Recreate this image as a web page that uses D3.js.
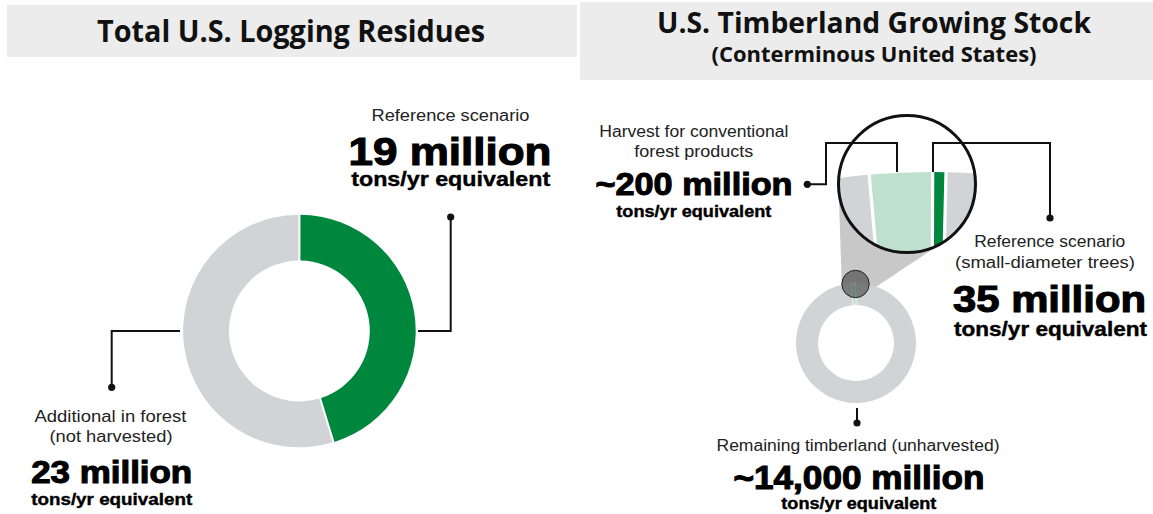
<!DOCTYPE html>
<html lang="en">
<head>
<meta charset="utf-8">
<script src="https://cdn.jsdelivr.net/npm/d3@7"></script>
<style>
  body { margin: 0; background: #fff; }
  text { font-family: "Liberation Sans", Arial, sans-serif; }
</style>
</head>
<body>
<svg id="chart" width="1153" height="514"></svg>
<script>
// ---- data ----
var residueNames  = ["Reference scenario", "Additional in forest"];
var residueValues = [19, 23];                       // million tons/yr
var residueText   = ["19 million", "23 million"];
var residueColors = ["#00873e", "#d1d3d6"];

var stockNames  = ["Harvest for conventional forest products",
                   "Reference scenario (small-diameter trees)",
                   "Remaining timberland (unharvested)"];
var stockValues = [200, 35, 14000];                 // million tons/yr
var stockText   = ["~200 million", "35 million", "~14,000 million"];
var stockColors = ["#bfe0cc", "#00873e", "#d1d3d6"];

var unitText = "tons/yr equivalent";
var titles = ["Total U.S. Logging Residues", "U.S. Timberland Growing Stock", "(Conterminous United States)"];

var svg = d3.select("#chart");
var ink = "#111";

// text helper: centred text squeezed/stretched to the measured width
function label(x, y, txt, size, weight, width, family) {
  var t = svg.append("text")
    .attr("x", x - width / 2)
    .attr("y", y)
    .attr("font-size", size)
    .attr("font-weight", weight == "normal" ? "normal" : "bold")
    .attr("fill", weight == "normal" ? "#222" : "#000")
    .attr("textLength", width)
    .attr("lengthAdjust", "spacingAndGlyphs")
    .text(txt);
  // heavier look for the big numbers
  if (weight == 900) t.attr("stroke", "#000").attr("stroke-width", 1.1);
  if (weight == "bold") t.attr("stroke", "#000").attr("stroke-width", 0.4);
  if (family) t.style("font-family", family);
  return t;
}

var line = d3.line();
function leader(pts) {
  svg.append("path").attr("d", line(pts))
    .attr("fill", "none").attr("stroke", ink).attr("stroke-width", 2);
  var end = pts[0];
  svg.append("circle").attr("cx", end[0]).attr("cy", end[1]).attr("r", 3.6).attr("fill", ink);
}

// ---- title bands ----
svg.append("rect").attr("x", 7).attr("y", 5).attr("width", 570).attr("height", 52).attr("fill", "#ececec");
svg.append("rect").attr("x", 580).attr("y", 2).attr("width", 573).attr("height", 78).attr("fill", "#ececec");
var titleFont = "'Open Sans', 'DejaVu Sans', sans-serif";
label(291, 42, titles[0], 30, "title", 388, titleFont).attr("fill", "#111");
label(874, 33, titles[1], 29, "title", 434, titleFont).attr("fill", "#111");
label(874, 62, titles[2], 22, "title", 325, titleFont).attr("fill", "#111");

// ---- left donut: logging residues ----
var resPie = d3.pie().sort(null).padAngle(0.015);
var resArc = d3.arc().innerRadius(70.4).outerRadius(116.3);
svg.append("g").attr("transform", "translate(299.4,331)")
  .selectAll("path").data(resPie(residueValues)).join("path")
  .attr("d", resArc)
  .attr("fill", function(d, i) { return residueColors[i]; });

leader([[450.7, 217], [450.7, 331], [418, 331]]);
leader([[111.7, 387.3], [111.7, 331], [180, 331]]);

label(450.5, 120.7, residueNames[0], 16, "normal", 158);
label(450, 165, residueText[0], 38, 900, 203);
label(450.7, 186, unitText, 20.5, "bold", 199);

label(110.5, 421.7, residueNames[1], 16, "normal", 152);
label(111, 442.3, "(not harvested)", 16, "normal", 123);
label(111.7, 483.3, residueText[1], 31, 900, 161);
label(111.7, 504.5, unitText, 17, "bold", 161);

// ---- right donut: growing stock ----
var total = d3.sum(stockValues);
var a0 = -2 * Math.PI * stockValues[0] / total;
var stockPie = d3.pie().sort(null).startAngle(a0).endAngle(a0 + 2 * Math.PI).padAngle(0.004);
var slices = stockPie(stockValues);

var small = { x: 856, y: 343, r0: 38, r1: 60 };
var lensS = { x: 855.5, y: 284, r: 13.7 };
var lensB = { x: 907, y: 184, r: 68.5 };
var mag = 690 / small.r1;

// cone between the two lenses (outer tangents)
var dx = lensB.x - lensS.x, dy = lensB.y - lensS.y, dist = Math.hypot(dx, dy);
var th = Math.atan2(dy, dx), ph = Math.acos((lensS.r - lensB.r) / dist);
function tp(c, s) { return [c.x + c.r * Math.cos(th + s * ph), c.y + c.r * Math.sin(th + s * ph)]; }
svg.append("path")
  .attr("d", line([tp(lensS, 1), tp(lensB, 1), tp(lensB, -1), tp(lensS, -1)]) + "Z")
  .attr("fill", "#c8c8c8");

var smallArc = d3.arc().innerRadius(small.r0).outerRadius(small.r1);
svg.append("g").attr("transform", "translate(" + small.x + "," + small.y + ")")
  .selectAll("path").data(slices).join("path")
  .attr("d", smallArc)
  .attr("fill", function(d, i) { return stockColors[i]; })
  .attr("stroke", function(d, i) { return i < 2 ? "#fff" : "none"; })
  .attr("stroke-width", 0.6);

svg.append("circle").attr("cx", lensS.x).attr("cy", lensS.y).attr("r", lensS.r)
  .attr("fill", "#000").attr("fill-opacity", 0.42)
  .attr("stroke", "#222").attr("stroke-width", 1);

// magnified view
svg.append("clipPath").attr("id", "lens")
  .append("circle").attr("cx", lensB.x).attr("cy", lensB.y).attr("r", lensB.r);
svg.append("circle").attr("cx", lensB.x).attr("cy", lensB.y).attr("r", lensB.r).attr("fill", "#fff");
var bigArc = d3.arc().innerRadius(small.r0 * mag).outerRadius(small.r1 * mag);
svg.append("g").attr("clip-path", "url(#lens)")
  .append("g").attr("transform", "translate(930," + (172 + small.r1 * mag) + ")")
  .selectAll("path").data(slices).join("path")
  .attr("d", bigArc)
  .attr("fill", function(d, i) { return stockColors[i]; });
svg.append("circle").attr("cx", lensB.x).attr("cy", lensB.y).attr("r", lensB.r)
  .attr("fill", "none").attr("stroke", ink).attr("stroke-width", 3);

leader([[807.3, 184.3], [826, 184.3], [826, 143], [897, 143], [897, 172]]);
leader([[1050, 218], [1050, 143], [933, 143], [933, 172]]);
leader([[857, 423], [857, 408]]);

label(693.8, 136.7, "Harvest for conventional", 16, "normal", 189);
label(693.8, 157.3, "forest products", 16, "normal", 119);
label(694, 195, stockText[0], 32, 900, 197);
label(693.8, 217, unitText, 16.5, "bold", 155);

label(1049.7, 246.7, "Reference scenario", 16, "normal", 151);
label(1045, 268.3, "(small-diameter trees)", 16, "normal", 180);
label(1049.5, 311.5, stockText[1], 36, 900, 193);
label(1050.5, 335.5, unitText, 20, "bold", 193);

label(858, 450.7, stockNames[2], 16, "normal", 283);
label(859, 489.3, stockText[2], 33, 900, 251);
label(858.8, 508.5, unitText, 16.5, "bold", 155);
</script>
</body>
</html>
